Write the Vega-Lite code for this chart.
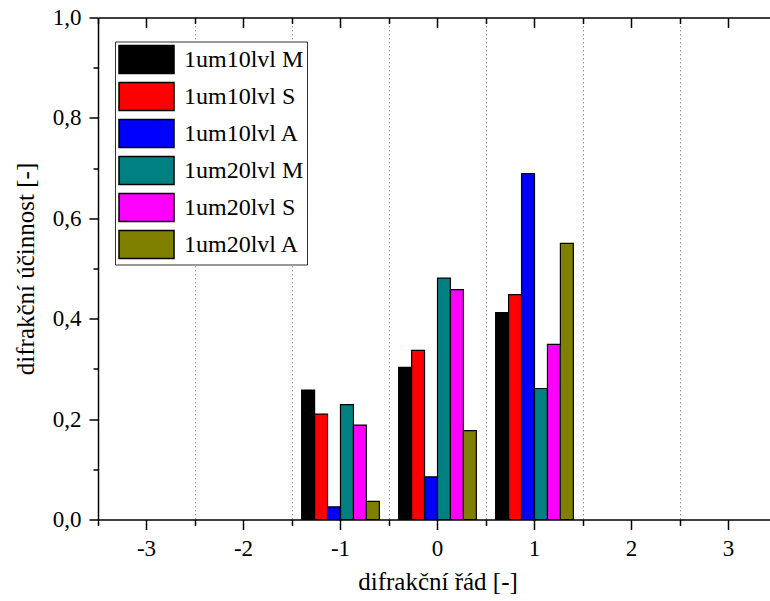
{
  "$schema": "https://vega.github.io/schema/vega-lite/v6.json",
  "width": 679,
  "height": 502,
  "autosize": {"type": "none"},
  "padding": {"left": 98, "top": 17.5, "right": 0, "bottom": 81.5},
  "background": "white",
  "data": {
    "values": [
      {"order": -1, "series": "1um10lvl M", "value": 0.258},
      {"order": -1, "series": "1um10lvl S", "value": 0.210},
      {"order": -1, "series": "1um10lvl A", "value": 0.025},
      {"order": -1, "series": "1um20lvl M", "value": 0.229},
      {"order": -1, "series": "1um20lvl S", "value": 0.188},
      {"order": -1, "series": "1um20lvl A", "value": 0.036},
      {"order": 0, "series": "1um10lvl M", "value": 0.303},
      {"order": 0, "series": "1um10lvl S", "value": 0.337},
      {"order": 0, "series": "1um10lvl A", "value": 0.085},
      {"order": 0, "series": "1um20lvl M", "value": 0.481},
      {"order": 0, "series": "1um20lvl S", "value": 0.458},
      {"order": 0, "series": "1um20lvl A", "value": 0.177},
      {"order": 1, "series": "1um10lvl M", "value": 0.412},
      {"order": 1, "series": "1um10lvl S", "value": 0.448},
      {"order": 1, "series": "1um10lvl A", "value": 0.689},
      {"order": 1, "series": "1um20lvl M", "value": 0.261},
      {"order": 1, "series": "1um20lvl S", "value": 0.349},
      {"order": 1, "series": "1um20lvl A", "value": 0.550}
    ]
  },
  "config": {
    "view": {"stroke": null},
    "font": "Liberation Serif, serif",
    "axis": {
      "labelFont": "Liberation Serif, serif",
      "titleFont": "Liberation Serif, serif",
      "labelColor": "black",
      "titleColor": "black",
      "titleFontWeight": "normal",
      "domainColor": "black",
      "tickColor": "black",
      "domainWidth": 1.5,
      "tickWidth": 1.5,
      "labelFontSize": 23,
      "titleFontSize": 25
    },
    "legend": {"labelFont": "Liberation Serif, serif"}
  },
  "resolve": {"axis": {"x": "independent", "y": "independent"}},
  "layer": [
    {
      "mark": {"type": "bar", "stroke": "black", "strokeWidth": 1.2},
      "encoding": {
        "x": {
          "field": "order",
          "type": "ordinal",
          "scale": {"domain": [-3, -2, -1, 0, 1, 2, 3], "paddingInner": 0, "paddingOuter": 0},
          "axis": {
            "orient": "bottom",
            "title": "difrakční řád [-]",
            "labelAngle": 0,
            "tickSize": 10,
            "labelPadding": 8,
            "titlePadding": 9,
            "grid": false,
            "bandPosition": 0.5
          }
        },
        "xOffset": {
          "field": "series",
          "type": "nominal",
          "scale": {"domain": ["1um10lvl M", "1um10lvl S", "1um10lvl A", "1um20lvl M", "1um20lvl S", "1um20lvl A"], "paddingInner": 0, "paddingOuter": 0.745}
        },
        "y": {
          "field": "value",
          "type": "quantitative",
          "scale": {"domain": [0, 1], "nice": false},
          "axis": {
            "orient": "left",
            "title": "difrakční účinnost [-]",
            "values": [0, 0.2, 0.4, 0.6, 0.8, 1.0],
            "labelExpr": "replace(format(datum.value, '.1f'), '.', ',')",
            "tickSize": 9,
            "labelPadding": 8,
            "titlePadding": 14,
            "grid": false
          }
        },
        "color": {
          "field": "series",
          "type": "nominal",
          "scale": {
            "domain": ["1um10lvl M", "1um10lvl S", "1um10lvl A", "1um20lvl M", "1um20lvl S", "1um20lvl A"],
            "range": ["#000000", "#ff0000", "#0000ff", "#008080", "#ff00ff", "#808000"]
          },
          "legend": {
            "orient": "none",
            "legendX": 17,
            "legendY": 24,
            "title": null,
            "symbolType": "M-1,-1H2.93V1H-1Z",
            "symbolSize": 784,
            "symbolStrokeColor": "black",
            "symbolStrokeWidth": 1.5,
            "symbolOpacity": 1,
            "labelFontSize": 24,
            "labelColor": "black",
            "labelOffset": 36,
            "rowPadding": 3,
            "padding": 3,
            "strokeColor": "#333333",
            "fillColor": "white"
          }
        }
      }
    },
    {
      "mark": {"type": "point", "opacity": 0},
      "encoding": {
        "x": {
          "field": "order",
          "type": "ordinal",
          "axis": {
            "orient": "bottom",
            "title": null,
            "labels": false,
            "domain": false,
            "tickSize": 6,
            "grid": true,
            "gridDash": [1.5, 2.5],
            "gridColor": "#999999",
            "gridWidth": 1,
            "bandPosition": 0
          }
        },
        "y": {
          "field": "value",
          "type": "quantitative",
          "axis": {
            "orient": "left",
            "title": null,
            "labels": false,
            "domain": false,
            "values": [0.1, 0.3, 0.5, 0.7, 0.9],
            "tickSize": 5,
            "grid": false
          }
        }
      }
    },
    {
      "mark": {"type": "point", "opacity": 0},
      "encoding": {
        "x": {
          "field": "order",
          "type": "ordinal",
          "axis": {
            "orient": "top",
            "title": null,
            "labels": false,
            "domain": true,
            "tickSize": -10,
            "grid": false,
            "bandPosition": 0.5
          }
        },
        "y": {"field": "value", "type": "quantitative", "axis": null}
      }
    },
    {
      "mark": {"type": "point", "opacity": 0},
      "encoding": {
        "x": {
          "field": "order",
          "type": "ordinal",
          "axis": {
            "orient": "top",
            "title": null,
            "labels": false,
            "domain": false,
            "tickSize": -6,
            "grid": false,
            "bandPosition": 0
          }
        },
        "y": {"field": "value", "type": "quantitative", "axis": null}
      }
    }
  ]
}
